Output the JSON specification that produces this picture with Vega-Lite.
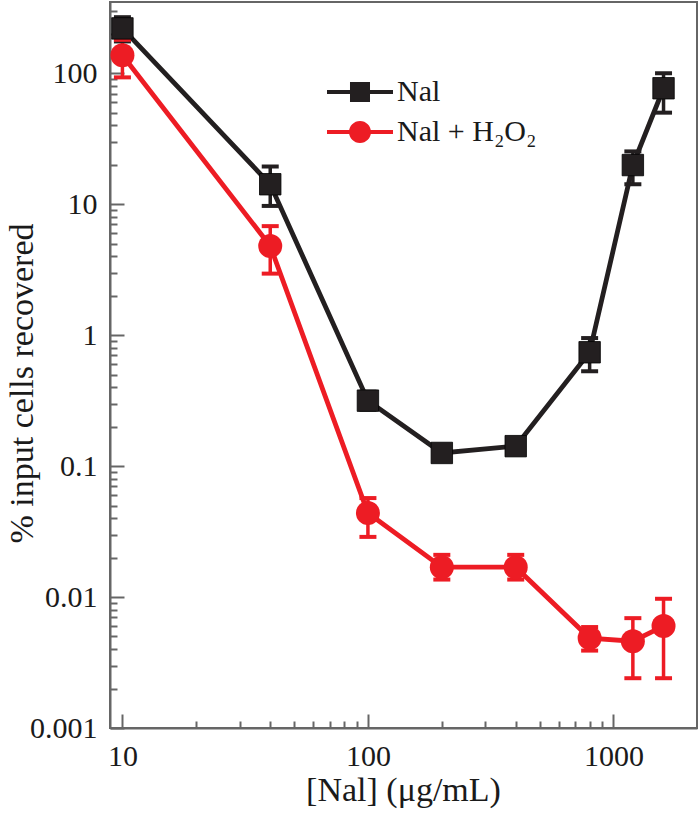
{
  "$schema": "https://vega.github.io/schema/vega-lite/v6.json",
  "autosize": {"type": "none"},
  "padding": {"left": 110, "top": 2, "right": 3, "bottom": 85},
  "width": 587,
  "height": 726,
  "background": "white",
  "config": {
    "font": "Liberation Serif",
    "view": {"stroke": "#666666", "strokeWidth": 2},
    "axis": {
      "domainColor": "#666666",
      "domainWidth": 2,
      "tickColor": "#666666",
      "tickWidth": 2,
      "grid": false,
      "labelFont": "Liberation Serif",
      "labelFontSize": 30,
      "labelColor": "#1a1a1a",
      "titleFont": "Liberation Serif",
      "titleFontSize": 34,
      "titleFontWeight": "normal",
      "titleColor": "#1a1a1a",
      "labelOverlap": false,
      "labelBound": false,
      "labelFlush": false
    }
  },
  "data": {
    "values": [
      {"conc": 10, "series": "Nal", "pct": 220, "lo": 175, "hi": 268},
      {"conc": 40, "series": "Nal", "pct": 14.2, "lo": 9.7, "hi": 19.4},
      {"conc": 100, "series": "Nal", "pct": 0.316, "lo": 0.27, "hi": 0.37},
      {"conc": 200, "series": "Nal", "pct": 0.126, "lo": 0.11, "hi": 0.145},
      {"conc": 400, "series": "Nal", "pct": 0.142, "lo": 0.125, "hi": 0.16},
      {"conc": 800, "series": "Nal", "pct": 0.74, "lo": 0.53, "hi": 0.95},
      {"conc": 1200, "series": "Nal", "pct": 19.9, "lo": 14.2, "hi": 25.3},
      {"conc": 1600, "series": "Nal", "pct": 76.8, "lo": 50, "hi": 100},
      {"conc": 10, "series": "Nal + H₂O₂", "pct": 137, "lo": 93, "hi": 180},
      {"conc": 40, "series": "Nal + H₂O₂", "pct": 4.8, "lo": 2.95, "hi": 6.8},
      {"conc": 100, "series": "Nal + H₂O₂", "pct": 0.0438, "lo": 0.0288, "hi": 0.057},
      {"conc": 200, "series": "Nal + H₂O₂", "pct": 0.0169, "lo": 0.0136, "hi": 0.021},
      {"conc": 400, "series": "Nal + H₂O₂", "pct": 0.0169, "lo": 0.0136, "hi": 0.021},
      {"conc": 800, "series": "Nal + H₂O₂", "pct": 0.00486, "lo": 0.0039, "hi": 0.0059},
      {"conc": 1200, "series": "Nal + H₂O₂", "pct": 0.0046, "lo": 0.0024, "hi": 0.0069},
      {"conc": 1600, "series": "Nal + H₂O₂", "pct": 0.006, "lo": 0.0024, "hi": 0.0097}
    ]
  },
  "encoding": {
    "x": {
      "field": "conc",
      "type": "quantitative",
      "scale": {"type": "log", "domain": [8.9, 2190], "nice": false},
      "axis": {
        "title": "[Nal] (μg/mL)",
        "values": [10, 20, 30, 40, 50, 60, 70, 80, 90, 100, 200, 300, 400, 500, 600, 700, 800, 900, 1000],
        "labelExpr": "abs(log(datum.value)/LN10 - round(log(datum.value)/LN10)) < 0.000001 ? format(datum.value, '~g') : ''",
        "tickSize": {"condition": {"test": "abs(log(datum.value)/LN10 - round(log(datum.value)/LN10)) < 0.000001", "value": -14}, "value": -7},
        "labelPadding": 27,
        "labelBaseline": "top",
        "titleX": 293,
        "titleY": 62,
        "titleBaseline": "middle",
        "titleAlign": "center"
      }
    },
    "color": {
      "field": "series",
      "type": "nominal",
      "scale": {"domain": ["Nal + H₂O₂", "Nal"], "range": ["#ed1c24", "#231f20"]},
      "legend": null
    }
  },
  "layer": [
    {
      "mark": {"type": "line", "strokeWidth": 4.8, "opacity": 1},
      "encoding": {
        "y": {
          "field": "pct",
          "type": "quantitative",
          "scale": {"type": "log", "domain": [0.001, 350], "nice": false},
          "axis": {
            "title": "% input cells recovered",
            "values": [0.001, 0.002, 0.003, 0.004, 0.005, 0.006, 0.007, 0.008, 0.009, 0.01, 0.02, 0.03, 0.04, 0.05, 0.06, 0.07, 0.08, 0.09, 0.1, 0.2, 0.3, 0.4, 0.5, 0.6, 0.7, 0.8, 0.9, 1, 2, 3, 4, 5, 6, 7, 8, 9, 10, 20, 30, 40, 50, 60, 70, 80, 90, 100, 200, 300],
            "labelExpr": "abs(log(datum.value)/LN10 - round(log(datum.value)/LN10)) < 0.000001 ? format(datum.value, '~g') : ''",
            "tickSize": {"condition": {"test": "abs(log(datum.value)/LN10 - round(log(datum.value)/LN10)) < 0.000001", "value": -14}, "value": -7},
            "labelPadding": 27,
            "labelBaseline": "middle",
            "titleAngle": -90,
            "titleX": -88,
            "titleY": 381,
            "titleBaseline": "middle",
            "titleAlign": "center"
          }
        }
      }
    },
    {
      "mark": {"type": "rule", "strokeWidth": 3.5, "opacity": 1},
      "encoding": {
        "y": {"field": "lo", "type": "quantitative"},
        "y2": {"field": "hi"}
      }
    },
    {
      "mark": {"type": "tick", "orient": "horizontal", "size": 17, "thickness": 4, "opacity": 1},
      "encoding": {"y": {"field": "lo", "type": "quantitative"}}
    },
    {
      "mark": {"type": "tick", "orient": "horizontal", "size": 17, "thickness": 4, "opacity": 1},
      "encoding": {"y": {"field": "hi", "type": "quantitative"}}
    },
    {
      "transform": [{"filter": "datum.series === 'Nal'"}],
      "mark": {"type": "square", "size": 460, "opacity": 1, "stroke": "#000000", "strokeWidth": 0.8},
      "encoding": {"y": {"field": "pct", "type": "quantitative"}}
    },
    {
      "transform": [{"filter": "datum.series !== 'Nal'"}],
      "mark": {"type": "circle", "size": 576, "opacity": 1},
      "encoding": {"y": {"field": "pct", "type": "quantitative"}}
    },
    {
      "mark": {"type": "point", "filled": true, "size": 0, "strokeWidth": 0},
      "encoding": {
        "y": {"field": "pct", "type": "quantitative"},
        "shape": {
          "field": "series",
          "type": "nominal",
          "scale": {
            "domain": ["Nal", "Nal + H₂O₂"],
            "range": [
              "M-2.2,-0.133H2.2V0.133H-2.2Z M-0.667,-0.667H0.667V0.667H-0.667Z",
              "M-2.2,-0.133H2.2V0.133H-2.2Z M-0.733,0A0.733,0.733 0 1,1 0.733,0A0.733,0.733 0 1,1 -0.733,0Z"
            ]
          },
          "legend": {
            "title": null,
            "orient": "none",
            "legendX": 235,
            "legendY": 75,
            "padding": 0,
            "symbolSize": 900,
            "symbolStrokeWidth": 0,
            "symbolOpacity": 1,
            "labelOffset": 22,
            "labelFontSize": 30,
            "labelFont": "Liberation Serif",
            "labelColor": "#1a1a1a",
            "rowPadding": 10,
            "labelLimit": 400
          }
        },
        "fill": {
          "field": "series",
          "type": "nominal",
          "scale": {"domain": ["Nal", "Nal + H₂O₂"], "range": ["#231f20", "#ed1c24"]},
          "legend": {
            "title": null,
            "orient": "none",
            "legendX": 235,
            "legendY": 75,
            "padding": 0,
            "symbolSize": 900,
            "symbolStrokeWidth": 0,
            "symbolOpacity": 1,
            "labelOffset": 22,
            "labelFontSize": 30,
            "labelFont": "Liberation Serif",
            "labelColor": "#1a1a1a",
            "rowPadding": 10,
            "labelLimit": 400
          }
        }
      }
    }
  ]
}
